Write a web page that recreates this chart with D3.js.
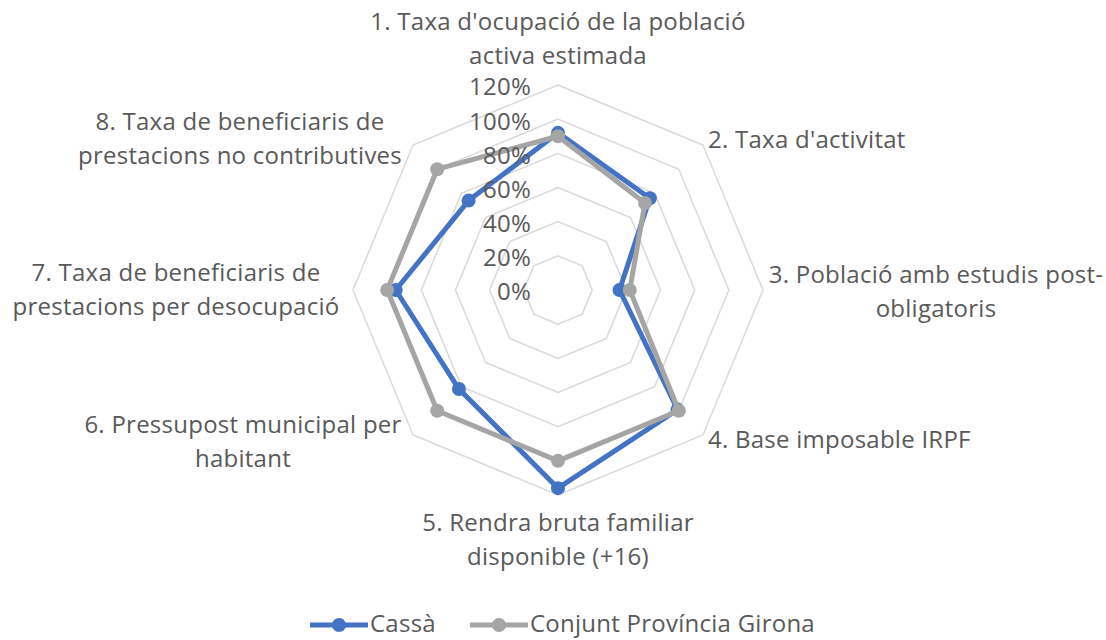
<!DOCTYPE html>
<html>
<head>
<meta charset="utf-8">
<script src="https://cdn.jsdelivr.net/npm/d3@7"></script>
<style>
  body { margin: 0; background: #fff; }
  text { font-family: "Open Sans", sans-serif; fill: #595959; font-size: 24px; letter-spacing: 0.25px; }
</style>
</head>
<body>
<svg width="1106" height="640"></svg>
<script>

// axis names (already split in lines as in the original)
var categories = [
  ["1. Taxa d'ocupació de la població", "activa estimada"],
  ["2. Taxa d'activitat"],
  ["3. Població amb estudis post-", "obligatoris"],
  ["4. Base imposable IRPF"],
  ["5. Rendra bruta familiar", "disponible (+16)"],
  ["6. Pressupost municipal per", "habitant"],
  ["7. Taxa de beneficiaris de", "prestacions per desocupació"],
  ["8. Taxa de beneficiaris de", "prestacions no contributives"]
];
var cassa  = [0.92, 0.76, 0.36, 0.99, 1.16, 0.82, 0.95, 0.74];
var girona = [0.90, 0.72, 0.42, 1.00, 1.00, 1.00, 1.00, 1.00];
var ticks = [0, 0.2, 0.4, 0.6, 0.8, 1.0, 1.2];
var seriesNames = ["Cassà", "Conjunt Província Girona"];
var seriesColors = ["#4472C4", "#A5A5A5"];

var svg = d3.select("svg"),
    cx = 558, cy = 290,
    g = svg.append("g").attr("transform", "translate(" + cx + "," + cy + ")");

var r = d3.scaleLinear().domain([0, 1.2]).range([0, 205]);
var angle = d3.scaleLinear().domain([0, categories.length]).range([0, 2 * Math.PI]);

function pt(i, v) {
  var a = angle(i);
  return [r(v) * Math.sin(a), -r(v) * Math.cos(a)];
}

// grid rings
ticks.slice(1).forEach(function(t) {
  g.append("path")
    .attr("d", d3.line()(categories.map(function(c, i) { return pt(i, t); })) + "Z")
    .attr("fill", "none")
    .attr("stroke", "#D9D9D9")
    .attr("stroke-width", 1.5);
});

// series
var line = d3.line().curve(d3.curveLinearClosed);
[cassa, girona].forEach(function(vals, k) {
  var pts = vals.map(function(v, i) { return pt(i, v); });
  g.append("path")
    .attr("d", line(pts))
    .attr("fill", "none")
    .attr("stroke", seriesColors[k])
    .attr("stroke-width", 5)
    .attr("stroke-linejoin", "round");
  g.selectAll(".m" + k)
    .data(pts)
    .enter().append("circle")
      .attr("cx", function(d) { return d[0]; })
      .attr("cy", function(d) { return d[1]; })
      .attr("r", 7)
      .attr("fill", seriesColors[k]);
});

// tick labels (drawn on top, like Excel)
g.selectAll(".tick")
  .data(ticks)
  .enter().append("text")
    .attr("x", -27)
    .attr("y", function(d) { return -r(d) + 2; })
    .attr("dy", "0.35em")
    .attr("text-anchor", "end")
    .text(d3.format(".0%"));

// category labels (positions of each label block)
var labelPos = [
  {x: 558, y: 22, anchor: "middle"},
  {x: 708, y: 140, anchor: "start"},
  {x: 936, y: 275, anchor: "middle"},
  {x: 708, y: 440, anchor: "start"},
  {x: 558, y: 523, anchor: "middle"},
  {x: 243, y: 425, anchor: "middle"},
  {x: 176, y: 273, anchor: "middle"},
  {x: 240, y: 122, anchor: "middle"}
];
categories.forEach(function(lines, i) {
  var p = labelPos[i];
  var t = svg.append("text")
    .attr("text-anchor", p.anchor);
  lines.forEach(function(s, j) {
    t.append("tspan")
      .attr("x", p.x)
      .attr("y", p.y + j * 34)
      .attr("dy", "0.35em")
      .text(s);
  });
});

// legend
var legendX = [310, 470];
seriesNames.forEach(function(name, k) {
  var lg = svg.append("g").attr("transform", "translate(" + legendX[k] + ",625)");
  lg.append("line")
    .attr("x1", 0).attr("x2", 58)
    .attr("stroke", seriesColors[k])
    .attr("stroke-width", 5);
  lg.append("circle")
    .attr("cx", 29).attr("r", 7)
    .attr("fill", seriesColors[k]);
  lg.append("text")
    .attr("x", 60)
    .attr("dy", "0.3em")
    .text(name);
});

</script>
</body>
</html>
